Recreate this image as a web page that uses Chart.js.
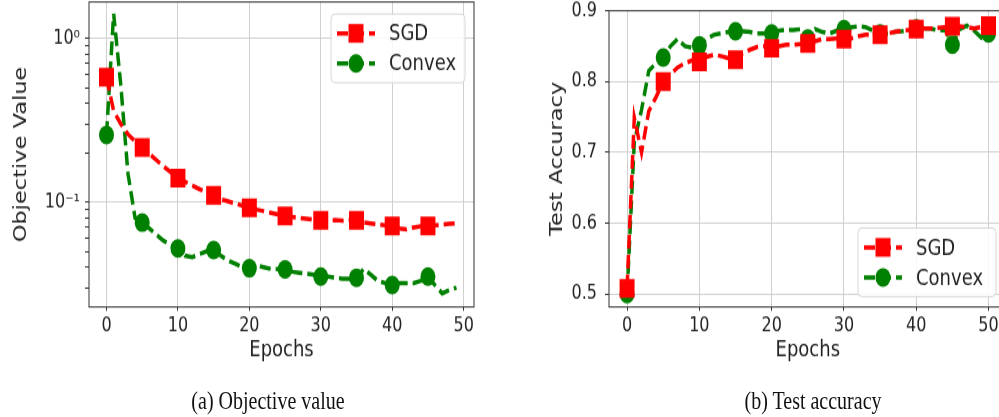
<!DOCTYPE html>
<html>
<head>
<meta charset="utf-8">
<script src="https://cdn.jsdelivr.net/npm/chart.js@4.4.1/dist/chart.umd.min.js"></script>
<style>
  html { overflow: hidden; }
  body { margin: 0; padding: 0; background: #fff; width: 999px; height: 417px; }
  #wrap { position: relative; width: 999px; height: 334px; transform: scale(1, 1.25); transform-origin: 0 0; }
  .box { position: absolute; top: 0; }
  .cap { position: absolute; top: 308px; width: 300px; text-align: center;
         font: 20px "Liberation Serif", "Times New Roman", serif; line-height: 24px; color: #111; }
</style>
</head>
<body>
<div id="wrap">
  <div class="box" style="left:0"><canvas id="objChart" width="480" height="300"></canvas></div>
  <div class="box" style="left:520px"><canvas id="accChart" width="495" height="300"></canvas></div>
  <div class="cap" style="left:118px">(a) Objective value</div>
  <div class="cap" style="left:663px">(b) Test accuracy</div>
</div>
<script>
// ---- data ----
const epochsObj = [0,1,2,3,4,5,6,7,8,9,10,11,12,13,14,15,16,17,18,19,20,21,22,23,24,
  25,26,27,28,29,30,31,32,33,34,35,36,37,38,39,40,41,42,43,44,45,46,47,48,49];
const epochsAcc = [0,1,2,3,4,5,6,7,8,9,10,11,12,13,14,15,16,17,18,19,20,21,22,23,24,
  25,26,27,28,29,30,31,32,33,34,35,36,37,38,39,40,41,42,43,44,45,46,47,48,49,50];

const objSGD = [0.578, 0.36, 0.30, 0.26, 0.235, 0.215, 0.197, 0.180, 0.165, 0.152,
  0.140, 0.133, 0.126, 0.120, 0.115, 0.110, 0.104, 0.101, 0.098, 0.095,
  0.0923, 0.090, 0.088, 0.086, 0.084, 0.0822, 0.081, 0.080, 0.079, 0.078,
  0.0773, 0.077, 0.0775, 0.077, 0.0775, 0.0773, 0.075, 0.074, 0.073, 0.072,
  0.0713, 0.069, 0.068, 0.070, 0.071, 0.0713, 0.072, 0.073, 0.0735, 0.0741];
const objConvex = [0.257, 1.41, 0.52, 0.15, 0.08, 0.0748, 0.069, 0.063, 0.058, 0.055,
  0.0521, 0.047, 0.046, 0.048, 0.050, 0.0509, 0.047, 0.044, 0.042, 0.040,
  0.0394, 0.041, 0.040, 0.039, 0.039, 0.0388, 0.0375, 0.037, 0.0365, 0.036,
  0.035, 0.035, 0.0345, 0.034, 0.034, 0.0345, 0.039, 0.036, 0.033, 0.032,
  0.0311, 0.032, 0.032, 0.032, 0.033, 0.035, 0.031, 0.0277, 0.029, 0.030];

const accSGD = [0.508, 0.749, 0.70, 0.758, 0.778, 0.80, 0.81, 0.82, 0.826, 0.83,
  0.828, 0.835, 0.838, 0.836, 0.833, 0.831, 0.840, 0.845, 0.849, 0.850,
  0.847, 0.850, 0.852, 0.852, 0.853, 0.854, 0.857, 0.860, 0.860, 0.861,
  0.860, 0.861, 0.864, 0.866, 0.866, 0.866, 0.868, 0.870, 0.872, 0.873,
  0.874, 0.875, 0.875, 0.876, 0.877, 0.878, 0.878, 0.877, 0.875, 0.877, 0.879];
const accConvex = [0.500, 0.715, 0.76, 0.815, 0.826, 0.834, 0.850, 0.860, 0.850, 0.848,
  0.851, 0.860, 0.866, 0.868, 0.870, 0.871, 0.871, 0.870, 0.868, 0.868,
  0.868, 0.872, 0.873, 0.873, 0.874, 0.861, 0.874, 0.870, 0.868, 0.872,
  0.874, 0.877, 0.878, 0.877, 0.872, 0.868, 0.868, 0.870, 0.871, 0.873,
  0.875, 0.875, 0.875, 0.872, 0.873, 0.852, 0.874, 0.879, 0.872, 0.862, 0.868];

const xTicks = [0, 10, 20, 30, 40, 50];
const logMajorTicks = [0.1, 1];
const logMajorLabels = ["10\u207B\u00B9", "10\u2070"];
const logMinorTicks = [0.03, 0.04, 0.05, 0.06, 0.07, 0.08, 0.09, 0.2, 0.3, 0.4, 0.5, 0.6, 0.7, 0.8, 0.9];
const accTicks = [0.5, 0.6, 0.7, 0.8, 0.9];
const accTickLabels = ["0.5", "0.6", "0.7", "0.8", "0.9"];

// ---- styling ----
Chart.defaults.font.family = "DejaVu Sans";
Chart.defaults.color = "#222";
const GRID = "#d0d0d0";
const MARK_EVERY = 5;

// box around the axes (matplotlib spines)
const framePlugin = {
  id: "frame",
  afterDatasetsDraw(chart) {
    const { ctx, chartArea: a } = chart;
    ctx.save();
    ctx.strokeStyle = "#333";
    ctx.lineWidth = 1;
    ctx.strokeRect(a.left, a.top, a.right - a.left, a.bottom - a.top);
    ctx.restore();
  },
};

// matplotlib-like legend box
const boxLegend = {
  id: "boxLegend",
  afterDraw(chart, args, o) {
    const ctx = chart.ctx;
    ctx.save();
    ctx.beginPath();
    ctx.roundRect(o.x, o.y, o.w, o.h, 4);
    ctx.fillStyle = "rgba(255,255,255,0.85)";
    ctx.fill();
    ctx.strokeStyle = "#d6d6d6";
    ctx.lineWidth = 1;
    ctx.stroke();
    chart.data.datasets.forEach((ds, i) => {
      const y = o.y + 15.5 + i * 24;
      ctx.strokeStyle = ds.borderColor;
      ctx.lineWidth = ds.borderWidth;
      ctx.setLineDash(ds.borderDash);
      ctx.beginPath();
      ctx.moveTo(o.x + 6, y);
      ctx.lineTo(o.x + 44, y);
      ctx.stroke();
      ctx.setLineDash([]);
      ctx.fillStyle = ds.borderColor;
      const mx = o.x + 25;
      if (ds.pointStyle === "rect") {
        ctx.fillRect(mx - 7.5, y - 7.5, 15, 15);
      } else {
        ctx.beginPath();
        ctx.arc(mx, y, 7.5, 0, Math.PI * 2);
        ctx.fill();
      }
      ctx.fillStyle = "#222";
      ctx.font = "18px 'DejaVu Sans'";
      ctx.textBaseline = "middle";
      ctx.fillText(ds.label, o.x + 58, y + 1);
    });
    ctx.restore();
  },
};

function series(label, values, color, style) {
  return {
    label: label,
    data: values,
    borderColor: color,
    backgroundColor: color,
    borderWidth: 3.5,
    borderDash: [11, 5],
    pointStyle: style,
    pointRadius: (c) => (c.dataIndex % MARK_EVERY === 0 ? (style === "rect" ? 10.6 : 7.5) : 0),
    pointBorderWidth: 0,
    tension: 0,
    fill: false,
  };
}

function xAxis(min, max) {
  return {
    type: "linear",
    min: min,
    max: max,
    afterBuildTicks: (s) => { s.ticks = xTicks.map((v) => ({ value: v })); },
    afterFit: (s) => { s.height = 54.4; s.paddingLeft = 0; s.paddingRight = 0; },
    ticks: { font: { size: 16 }, padding: 3, callback: (v) => String(v), maxRotation: 0 },
    grid: { color: GRID, tickColor: "#333", tickLength: 3 },
    border: { display: false },
    title: { display: true, text: "Epochs", font: { size: 18 }, padding: { top: 0, bottom: 9.2 } },
  };
}

// (a) objective value, log scale
new Chart(document.getElementById("objChart"), {
  type: "line",
  data: {
    labels: epochsObj,
    datasets: [
      series("SGD", objSGD, "#ff0000", "rect"),
      series("Convex", objConvex, "#008000", "circle"),
    ],
  },
  options: {
    responsive: false,
    animation: false,
    layout: { autoPadding: false, padding: { left: 0, right: 6, top: 1.6, bottom: 0 } },
    plugins: {
      legend: { display: false },
      tooltip: { enabled: false },
      boxLegend: { x: 331, y: 11.2, w: 134, h: 55 },
    },
    scales: {
      x: xAxis(-2.45, 51.45),
      y: {
        type: "logarithmic",
        min: 0.02284,
        max: 1.666,
        afterBuildTicks: (s) => {
          s.ticks = logMinorTicks.concat(logMajorTicks).sort((a, b) => a - b).map((v) => ({ value: v }));
        },
        afterFit: (s) => { s.width = 89; s.paddingTop = 0; s.paddingBottom = 0; },
        ticks: {
          font: { size: 16 },
          padding: 5,
          autoSkip: false,
          callback: (v) => {
            const k = logMajorTicks.indexOf(v);
            return k >= 0 ? logMajorLabels[k] : "";
          },
        },
        grid: {
          color: (c) => (c.tick && logMajorTicks.includes(c.tick.value) ? GRID : "rgba(0,0,0,0)"),
          tickColor: "#333",
          tickLength: 4,
        },
        border: { display: false },
        title: { display: true, text: "Objective Value", font: { size: 18 }, padding: { top: 10.2, bottom: 0 } },
      },
    },
  },
  plugins: [framePlugin, boxLegend],
});

// (b) test accuracy
new Chart(document.getElementById("accChart"), {
  type: "line",
  data: {
    labels: epochsAcc,
    datasets: [
      series("SGD", accSGD, "#ff0000", "rect"),
      series("Convex", accConvex, "#008000", "circle"),
    ],
  },
  options: {
    responsive: false,
    animation: false,
    layout: { autoPadding: false, padding: { left: 0, right: 8.4, top: 8.6, bottom: 0 } },
    plugins: {
      legend: { display: false },
      tooltip: { enabled: false },
      boxLegend: { x: 338, y: 182.4, w: 138, h: 55 },
    },
    scales: {
      x: xAxis(-2.5, 52.5),
      y: {
        type: "linear",
        min: 0.4817,
        max: 0.9,
        afterBuildTicks: (s) => { s.ticks = accTicks.map((v) => ({ value: v })); },
        afterFit: (s) => { s.width = 89; s.paddingTop = 0; s.paddingBottom = 0; },
        ticks: {
          font: { size: 16 },
          padding: 8,
          callback: (v) => accTickLabels[accTicks.indexOf(v)],
        },
        grid: { color: GRID, tickColor: "#333", tickLength: 4 },
        border: { display: false },
        title: { display: true, text: "Test Accuracy", font: { size: 18 }, padding: { top: 26.2, bottom: 0 } },
      },
    },
  },
  plugins: [framePlugin, boxLegend],
});
</script>
</body>
</html>
